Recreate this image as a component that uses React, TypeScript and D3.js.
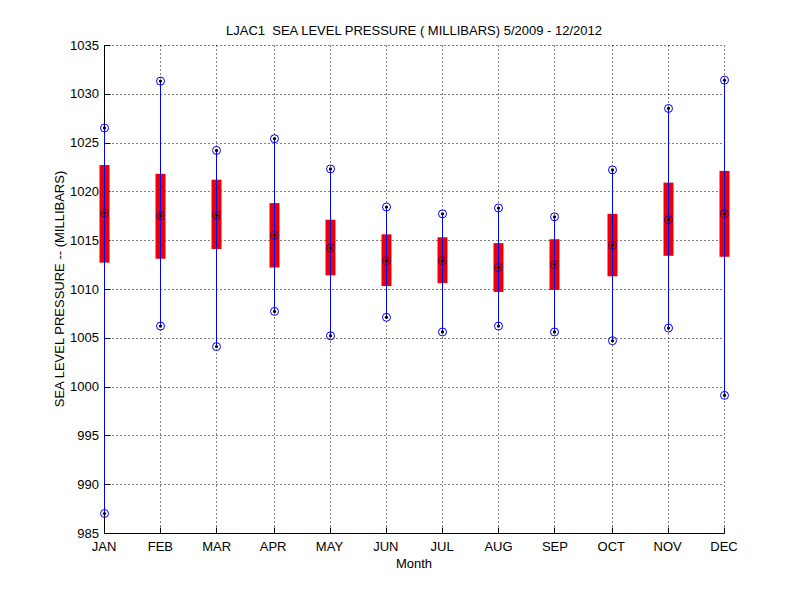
import React from "react";
import * as d3 from "d3";

const months = ["JAN", "FEB", "MAR", "APR", "MAY", "JUN", "JUL", "AUG", "SEP", "OCT", "NOV", "DEC"];
const maxVals = [1026.5, 1031.3, 1024.2, 1025.4, 1022.3, 1018.4, 1017.7, 1018.3, 1017.4, 1022.2, 1028.5, 1031.4];
const q3Vals = [1022.7, 1021.8, 1021.2, 1018.8, 1017.1, 1015.6, 1015.3, 1014.7, 1015.1, 1017.7, 1020.9, 1022.1];
const medianVals = [1017.8, 1017.5, 1017.55, 1015.5, 1014.2, 1012.9, 1012.9, 1012.2, 1012.5, 1014.5, 1017.1, 1017.7];
const q1Vals = [1012.7, 1013.1, 1014.1, 1012.2, 1011.4, 1010.3, 1010.6, 1009.7, 1009.9, 1011.3, 1013.4, 1013.3];
const minVals = [987.0, 1006.2, 1004.1, 1007.7, 1005.2, 1007.1, 1005.6, 1006.2, 1005.6, 1004.7, 1006.0, 999.1];
const yTicks = [985, 990, 995, 1000, 1005, 1010, 1015, 1020, 1025, 1030, 1035];

const W = 800, H = 600;
const left = 104, right = 724, top = 45, bottom = 533;
const font = "'Liberation Sans', Arial, sans-serif";
const fs = 13;

function Marker({ cx, cy, stroke }: { cx: number; cy: number; stroke: string }) {
  return (
    <g>
      <circle cx={cx} cy={cy} r={4} fill="none" stroke={stroke} strokeWidth={1} />
      <circle cx={cx} cy={cy} r={1.6} fill="#000" />
    </g>
  );
}

export default function App() {
  const xs = d3.scalePoint<string>().domain(months).range([left, right]);
  const xi = (m: string) => 2 * Math.round(xs(m)! / 2);
  const x = (m: string) => xi(m) + 0.5;
  const yl = d3.scaleLinear().domain([985, 1035]).range([bottom, top]);
  const yg = (v: number) => Math.round(yl(v)) + 0.5;
  const boxW = 10;
  const blue = "#0000ff";
  const L = left + 0.5, R = right + 0.5, T = top + 0.5, B = bottom + 0.5;
  return (
    <svg width={W} height={H} style={{ position: "absolute", left: 0, top: 0, background: "#fff" }}>
      <rect x={0} y={0} width={W} height={H} fill="#fff" />
      <g>
        {yTicks.map((t) => (
          <line key={"gy" + t} x1={L} x2={R} y1={yg(t)} y2={yg(t)} stroke="#000" strokeWidth={1} strokeDasharray="1,3" />
        ))}
        {months.map((m) => (
          <line key={"gx" + m} x1={x(m)} x2={x(m)} y1={T} y2={B} stroke="#000" strokeWidth={1} strokeDasharray="1,3" />
        ))}
      </g>
      <line x1={L} x2={L} y1={T} y2={B} stroke="#000" strokeWidth={1} />
      <line x1={L} x2={R} y1={B} y2={B} stroke="#000" strokeWidth={1} />
      {yTicks.map((t) => (
        <g key={"ty" + t}>
          <line x1={L} x2={L + 6} y1={yg(t)} y2={yg(t)} stroke="#000" />
          <text x={left - 5} y={yl(t) + 4.5} textAnchor="end" fontFamily={font} fontSize={fs} fill="#000">{t}</text>
        </g>
      ))}
      {months.map((m) => (
        <g key={"tx" + m}>
          <line x1={x(m)} x2={x(m)} y1={B} y2={B - 6} stroke="#000" />
          <text x={xs(m)} y={551} textAnchor="middle" fontFamily={font} fontSize={fs} fill="#000">{m}</text>
        </g>
      ))}
      <g>
        {months.map((m, i) => {
          const cx = x(m);
          return (
            <g key={"b" + m}>
              <rect x={cx - boxW / 2} y={yl(q3Vals[i])} width={boxW} height={yl(q1Vals[i]) - yl(q3Vals[i])} fill="#ee0000" />
              <rect x={xi(m)} y={yl(maxVals[i])} width={1} height={yl(minVals[i]) - yl(maxVals[i])} fill={blue} shapeRendering="crispEdges" />
              <Marker cx={cx} cy={yl(maxVals[i])} stroke={blue} />
              <Marker cx={cx} cy={yl(minVals[i])} stroke={blue} />
              <Marker cx={cx} cy={yl(medianVals[i])} stroke="#400060" />
            </g>
          );
        })}
      </g>
      <text x={(left + right) / 2} y={35} textAnchor="middle" fontFamily={font} fontSize={fs} fill="#000" style={{ whiteSpace: "pre" }}>
        {"LJAC1  SEA LEVEL PRESSURE ( MILLIBARS) 5/2009 - 12/2012"}
      </text>
      <text x={(left + right) / 2} y={568} textAnchor="middle" fontFamily={font} fontSize={fs} fill="#000">Month</text>
      <text transform={`translate(64,${(top + bottom) / 2}) rotate(-90)`} textAnchor="middle" fontFamily={font} fontSize={fs} fill="#000">
        SEA LEVEL PRESSURE -- (MILLIBARS)
      </text>
    </svg>
  );
}
